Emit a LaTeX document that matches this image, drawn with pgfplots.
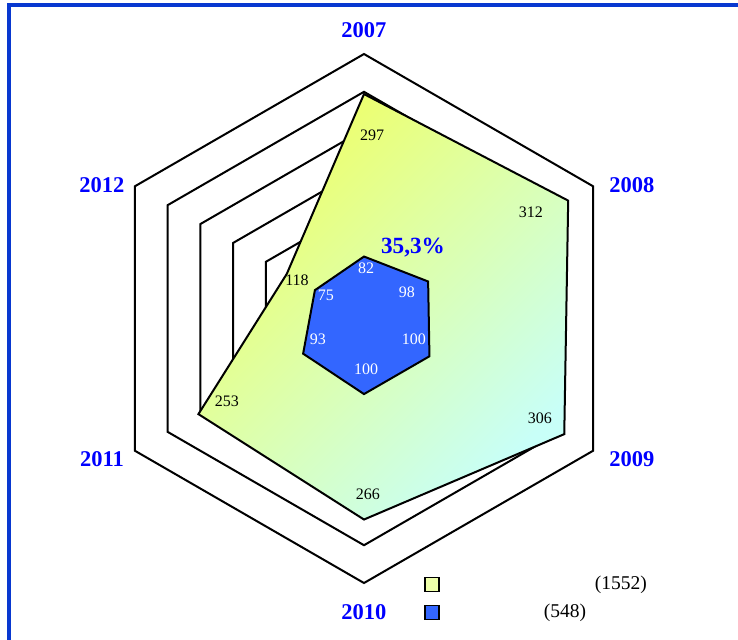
\documentclass[border=0pt]{standalone}
\usepackage{fontspec}
\setmainfont{Liberation Serif}
\usepackage{pgfplots}
\pgfplotsset{compat=1.18}
\usepgfplotslibrary{polar}

\definecolor{frameblue}{RGB}{8,56,208}
\definecolor{labblue}{RGB}{0,0,255}
\definecolor{serieblue}{RGB}{51,102,255}
\definecolor{gradyellow}{RGB}{240,255,100}
\definecolor{gradcyan}{RGB}{200,255,248}
\definecolor{legyellow}{RGB}{238,255,170}

\begin{document}
\begin{tikzpicture}[x=1pt,y=1pt,
  yearlab/.style={font=\fontsize{11.25}{13}\selectfont\bfseries, text=labblue},
  datalab/.style={font=\fontsize{8}{9.6}\selectfont, inner sep=0pt}]
\useasboundingbox (-182,-160.25) rectangle (187,159.25);
\begin{scope}
  \clip (-182,-160.25) rectangle (187,159.25);
  \draw[frameblue, line width=2pt] (-177.6,-300) -- (-177.6,156.6) -- (300,156.6);
\end{scope}
\begin{polaraxis}[
  at={(0,0)}, anchor=origin,
  scale only axis, width=264.5pt, height=264.5pt,
  xmin=0, xmax=360, ymin=0, ymax=350,
  hide axis, clip=false,
  ring/.style={black, line width=1pt, forget plot},
  legend image code/.code={\draw[#1] (0pt,-3.5pt) rectangle (7pt,3.5pt);},
  legend cell align=left,
  legend style={at={(axis description cs:0.613,0.015)}, anchor=north west,
    draw=none, fill=none, inner sep=0pt, row sep=5pt,
    font=\fontsize{9.75}{11}\selectfont,
    nodes={inner sep=0pt, text height=7pt, text depth=2pt}},
]
% hexagonal grid
\addplot[ring] coordinates {(90,350)(30,350)(330,350)(270,350)(210,350)(150,350)} -- cycle;
\addplot[ring] coordinates {(90,300)(30,300)(330,300)(270,300)(210,300)(150,300)} -- cycle;
\addplot[ring] coordinates {(90,250)(30,250)(330,250)(270,250)(210,250)(150,250)} -- cycle;
\addplot[ring] coordinates {(90,200)(30,200)(330,200)(270,200)(210,200)(150,200)} -- cycle;
\addplot[ring] coordinates {(90,150)(30,150)(330,150)(270,150)(210,150)(150,150)} -- cycle;
\addplot[ring] coordinates {(90,100)(30,100)(330,100)(270,100)(210,100)(150,100)} -- cycle;
\addplot[ring] coordinates {(90,50)(30,50)(330,50)(270,50)(210,50)(150,50)} -- cycle;

% series 1 (total 1552)
\addplot[draw=black, line width=1pt, top color=gradyellow, bottom color=gradcyan,
  shading angle=45, forget plot]
  coordinates {(90,297)(30,312)(330,306)(270,266)(210,253)(150,118)} -- cycle;
% series 2 (total 548)
\addplot[draw=black, line width=1pt, fill=serieblue, forget plot]
  coordinates {(90,82)(30,98)(330,100)(270,100)(210,93)(150,75)} -- cycle;

\addlegendimage{draw=black, line width=0.9pt, fill=legyellow}
\addlegendentry{\hspace*{77.5pt}(1552)}
\addlegendimage{draw=black, line width=0.9pt, fill=serieblue}
\addlegendentry{\hspace*{52pt}(548)}

% category labels
\node[yearlab] at (axis cs:90,381.8) {2007};
\node[yearlab] at (axis cs:26.5,396.2) {2008};
\node[yearlab] at (axis cs:332.3,400.4) {2009};
\node[yearlab] at (axis cs:270,388.4) {2010};
\node[yearlab] at (axis cs:208.2,393.4) {2011};
\node[yearlab] at (axis cs:153,389.1) {2012};

% value labels
\node[datalab] at (axis cs:87.5,243) {297};
\node[datalab] at (axis cs:32.5,262) {312};
\node[datalab] at (axis cs:330.5,267.5) {306};
\node[datalab] at (axis cs:271.3,232) {266};
\node[datalab] at (axis cs:211,211.7) {253};
\node[datalab] at (axis cs:150.1,102.2) {118};

\node[datalab, text=white] at (axis cs:87.7,66.9) {82};
\node[datalab, text=white] at (axis cs:31.6,66.8) {98};
\node[datalab, text=white] at (axis cs:337.7,71.5) {100};
\node[datalab, text=white] at (axis cs:272.3,66.9) {100};
\node[datalab, text=white] at (axis cs:204,66.7) {93};
\node[datalab, text=white] at (axis cs:148.3,59.1) {75};

\node[font=\fontsize{11.6}{13}\selectfont\bfseries, text=labblue]
  at (axis cs:55.2,113.6) {35,3\%};
\end{polaraxis}
\end{tikzpicture}
\end{document}
